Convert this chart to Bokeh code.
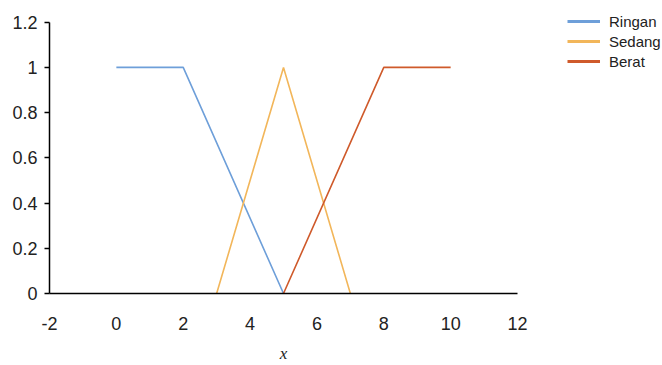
from bokeh.plotting import figure
from bokeh.models import Range1d, FixedTicker, Legend, LegendItem
from bokeh.layouts import row
from bokeh.embed import file_html
from bokeh.resources import INLINE

ringan_x = [0, 2, 5]
ringan_y = [1, 1, 0]
sedang_x = [3, 5, 7]
sedang_y = [0, 1, 0]
berat_x = [5, 8, 10]
berat_y = [0, 1, 1]

series_names = ["Ringan", "Sedang", "Berat"]
series_colors = ["#6e9fd9", "#f2b65a", "#cf5a2b"]
series_x = [ringan_x, sedang_x, berat_x]
series_y = [ringan_y, sedang_y, berat_y]

x_ticks = [-2, 0, 2, 4, 6, 8, 10, 12]
x_labels = {-2: "-2"}
y_ticks = [0, 0.2, 0.4, 0.6, 0.8, 1, 1.2]
y_labels = {0: "0", 0.2: "0.2", 0.4: "0.4", 0.6: "0.6", 0.8: "0.8", 1: "1", 1.2: "1.2"}

# frame top at 11px (shared with legend panel); 1.2 sits 11px lower, at 22px
top_pad = 1.2 * 290 / 279

p = figure(width=567, height=365, output_backend="svg", toolbar_location=None,
           x_range=Range1d(-2, 12), y_range=Range1d(0, top_pad),
           min_border_left=49, min_border_right=50, min_border_top=11, min_border_bottom=64)
p.outline_line_color = None
p.xgrid.visible = False
p.ygrid.visible = False
p.background_fill_color = "white"
p.border_fill_color = "white"

font = "Liberation Sans"
for ax in (p.xaxis[0], p.yaxis[0]):
    ax.axis_line_color = "black"
    ax.axis_line_width = 1.5
    ax.major_label_text_font = font
    ax.major_label_text_font_size = "18px"
    ax.major_label_text_color = "#222222"
    ax.minor_tick_line_color = None

p.xaxis.ticker = FixedTicker(ticks=x_ticks)
p.xaxis.major_label_overrides = x_labels
p.xaxis.major_tick_line_color = None
p.xaxis.major_label_standoff = 17
p.xaxis.axis_label = "x"
p.xaxis.axis_label_text_font = "Liberation Serif"
p.xaxis.axis_label_text_font_style = "italic"
p.xaxis.axis_label_text_font_size = "17px"
p.xaxis.axis_label_text_color = "#222222"
p.xaxis.axis_label_standoff = 11

p.yaxis.ticker = FixedTicker(ticks=y_ticks)
p.yaxis.bounds = (0, 1.2)
p.yaxis.major_label_overrides = y_labels
p.yaxis.major_tick_line_color = "black"
p.yaxis.major_tick_line_width = 1.5
p.yaxis.major_tick_out = 5
p.yaxis.major_tick_in = 0
p.yaxis.major_label_standoff = 7

for xs, ys, color in zip(series_x, series_y, series_colors):
    p.line(xs, ys, line_color=color, line_width=1.6)

# legend panel: a narrow figure to the right; its copies of the lines lie outside its range
lg = figure(width=95, height=365, output_backend="svg", toolbar_location=None,
            x_axis_location=None, y_axis_location=None,
            x_range=Range1d(100, 101), y_range=Range1d(100, 101),
            min_border_left=0, min_border_right=0, min_border_top=11, min_border_bottom=64)
lg.outline_line_color = None
lg.xgrid.visible = False
lg.ygrid.visible = False
lg.background_fill_color = "white"
lg.border_fill_color = "white"
items = []
for name, xs, ys, color in zip(series_names, series_x, series_y, series_colors):
    r = lg.line(xs, ys, line_color=color, line_width=2.8)
    items.append(LegendItem(label=name, renderers=[r]))

legend = Legend(items=items, location="top_left", border_line_color=None, background_fill_alpha=0,
                label_text_font=font, label_text_font_size="15px", label_text_color="#222222",
                glyph_width=33, glyph_height=20, label_height=20, spacing=0,
                label_standoff=9, padding=0, margin=0)
lg.add_layout(legend, "center")

layout = row(p, lg, spacing=0)
open("out.html", "w").write(file_html(layout, INLINE))
